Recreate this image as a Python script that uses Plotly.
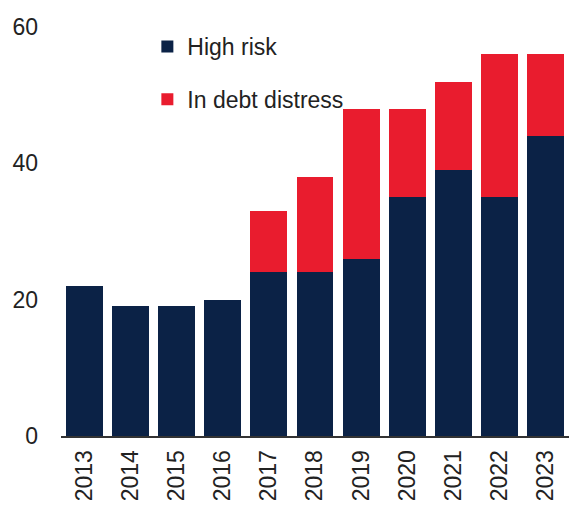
import plotly.graph_objects as go

# Countries at high risk of / in debt distress, by year
years = ["2013", "2014", "2015", "2016", "2017", "2018",
         "2019", "2020", "2021", "2022", "2023"]
high_risk = [22, 19, 19, 20, 24, 24, 26, 35, 39, 35, 44]
in_distress = [0, 0, 0, 0, 9, 14, 22, 13, 13, 21, 12]
y_ticks = [0, 20, 40, 60]

NAVY = "#0b2246"
RED = "#e91c2e"
FONT = "Liberation Sans, Arial, sans-serif"

fig = go.Figure()
fig.add_trace(go.Bar(x=years, y=high_risk, name="High risk",
                     marker=dict(color=NAVY, line=dict(width=0)),
                     legendgroup="a"))
fig.add_trace(go.Bar(x=years, y=in_distress, name="In debt distress",
                     marker=dict(color=RED, line=dict(width=0)),
                     legendgroup="b"))

fig.update_layout(
    width=569, height=508,
    margin=dict(l=61, r=0, t=27, b=72),
    barmode="stack",
    bargap=0.2,
    plot_bgcolor="white",
    paper_bgcolor="white",
    font=dict(family=FONT, size=23, color="#222222"),
    showlegend=True,
    legend=dict(
        x=0.17, y=1.005, xanchor="left", yanchor="top",
        traceorder="grouped", tracegroupgap=20,
        bgcolor="rgba(0,0,0,0)",
        font=dict(size=23, color="#222222"),
        itemwidth=30,
    ),
    xaxis=dict(
        type="category",
        tickangle=-90,
        showline=True, linecolor="#333333", linewidth=2,
        showgrid=False, ticks="", ticklabelstandoff=3,
        tickfont=dict(size=23),
    ),
    yaxis=dict(
        range=[0, 60],
        tickvals=y_ticks,
        showgrid=False, zeroline=False, showline=False,
        ticks="", ticklabelstandoff=22,
        tickfont=dict(size=23),
    ),
)

fig.write_html("out.html")
